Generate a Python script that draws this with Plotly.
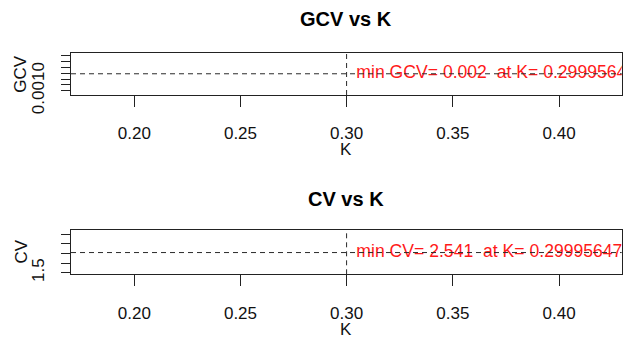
import plotly.graph_objects as go

# ---- data ----
k_ticks = [0.20, 0.25, 0.30, 0.35, 0.40]
k_tick_labels = ["0.20", "0.25", "0.30", "0.35", "0.40"]
k_range = [0.1702, 0.4295]

k_opt = 0.299956472
gcv_min = 0.00158
cv_min = 2.541

gcv_ticks = [0.0010, 0.0012, 0.0014, 0.0016, 0.0018, 0.0020, 0.0022]
gcv_tick_labels = ["0.0010", "", "", "", "", "", ""]
gcv_range = [0.0008525, 0.002303]

cv_ticks = [1.5, 2.0, 2.5, 3.0, 3.5]
cv_tick_labels = ["1.5", "", "", "", ""]
cv_range = [1.417, 3.707]

titles = ["GCV vs K", "CV vs K"]
ylabels = ["GCV", "CV"]
xlabel = "K"

FONT = "Liberation Sans, Arial, sans-serif"
NB = "\u00a0"

gcv_text = f"{NB}{NB}min GCV= {round(gcv_min, 3)}{NB}{NB}at K= {k_opt}"
cv_text = f"{NB}{NB}min CV= {round(cv_min, 3)}{NB}{NB}at K= {k_opt}"

fig = go.Figure()

fig.add_trace(go.Scatter(x=[k_opt], y=[gcv_min], mode="text", text=[gcv_text],
                         textposition="middle right", cliponaxis=True,
                         textfont=dict(color="#ff1a1a", size=17.6, family=FONT),
                         xaxis="x", yaxis="y", showlegend=False, hoverinfo="skip"))
fig.add_trace(go.Scatter(x=[k_opt], y=[cv_min], mode="text", text=[cv_text],
                         textposition="middle right", cliponaxis=True,
                         textfont=dict(color="#ff1a1a", size=17.6, family=FONT),
                         xaxis="x2", yaxis="y2", showlegend=False, hoverinfo="skip"))

line_style = dict(color="#2a2a2a", width=1, dash="5px,4px")
fig.add_shape(type="line", xref="x domain", yref="y", x0=0, x1=1, y0=gcv_min, y1=gcv_min, line=line_style)
fig.add_shape(type="line", xref="x2 domain", yref="y2", x0=0, x1=1, y0=cv_min, y1=cv_min, line=line_style)
fig.add_shape(type="line", xref="x", yref="y domain", x0=k_opt, x1=k_opt, y0=0, y1=1, line=line_style)
fig.add_shape(type="line", xref="x2", yref="y2 domain", x0=k_opt, x1=k_opt, y0=0, y1=1, line=line_style)

xdom = [71 / 632, 621.7 / 632]
ydom_top = [(337 - 95) / 337, (337 - 52.7) / 337]
ydom_bot = [(337 - 274.3) / 337, (337 - 230) / 337]

xaxis_common = dict(range=k_range, tickvals=k_ticks, ticktext=k_tick_labels, domain=xdom,
                    showline=True, mirror=True, linecolor="#222222", linewidth=1,
                    ticks="outside", ticklen=11, tickcolor="#222222", tickwidth=1,
                    showgrid=False, zeroline=False, ticklabelstandoff=12, automargin=False,
                    tickfont=dict(size=17, family=FONT, color="#111111"))
yaxis_common = dict(showline=True, mirror=True, linecolor="#222222", linewidth=1,
                    ticks="outside", ticklen=9, tickcolor="#222222", tickwidth=1,
                    showgrid=False, zeroline=False, tickangle=-90, ticklabelstandoff=10,
                    automargin=False,
                    tickfont=dict(size=17, family=FONT, color="#111111"))

fig.update_layout(
    width=632, height=337,
    margin=dict(l=0, r=0, t=0, b=0, pad=0),
    paper_bgcolor="white", plot_bgcolor="white",
    showlegend=False,
    xaxis=dict(anchor="y", **xaxis_common),
    xaxis2=dict(anchor="y2", **xaxis_common),
    yaxis=dict(anchor="x", domain=ydom_top, range=gcv_range, tickvals=gcv_ticks,
               ticktext=gcv_tick_labels, **yaxis_common),
    yaxis2=dict(anchor="x2", domain=ydom_bot, range=cv_range, tickvals=cv_ticks,
                ticktext=cv_tick_labels, **yaxis_common),
)

xc = (xdom[0] + xdom[1]) / 2
ann = []
ann.append(dict(text=f"<b>{titles[0]}</b>", x=xc, y=(337 - 19) / 337, xref="paper", yref="paper",
                showarrow=False, xanchor="center", yanchor="middle",
                font=dict(size=20, family=FONT, color="black")))
ann.append(dict(text=f"<b>{titles[1]}</b>", x=xc, y=(337 - 199) / 337, xref="paper", yref="paper",
                showarrow=False, xanchor="center", yanchor="middle",
                font=dict(size=20, family=FONT, color="black")))
for yy in [(337 - 149.7) / 337, (337 - 329) / 337]:
    ann.append(dict(text=xlabel, x=xc, y=yy, xref="paper", yref="paper", showarrow=False,
                    xanchor="center", yanchor="middle",
                    font=dict(size=17, family=FONT, color="#111111")))
ann.append(dict(text=ylabels[0], x=21 / 632, y=(337 - 73.8) / 337, xref="paper", yref="paper",
                showarrow=False, textangle=-90, xanchor="center", yanchor="middle",
                font=dict(size=17, family=FONT, color="#111111")))
ann.append(dict(text=ylabels[1], x=21 / 632, y=(337 - 251.5) / 337, xref="paper", yref="paper",
                showarrow=False, textangle=-90, xanchor="center", yanchor="middle",
                font=dict(size=17, family=FONT, color="#111111")))
fig.update_layout(annotations=ann)

fig.write_html("out.html", config={"displayModeBar": False},
               post_script="document.body.style.margin='0';")
